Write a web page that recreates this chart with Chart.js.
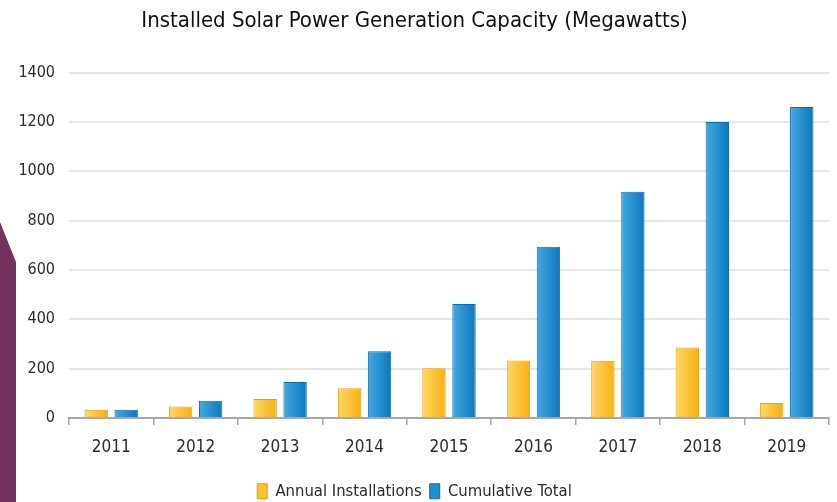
<!DOCTYPE html>
<html>
<head>
<meta charset="utf-8">
<script src="https://cdn.jsdelivr.net/npm/chart.js@4"></script>
<style>
  html, body { margin: 0; padding: 0; background: #ffffff; }
  #wrap { position: relative; width: 837px; height: 502px; overflow: hidden; }
  #deco { position: absolute; left: 0; top: 0; width: 16px; height: 502px; background: #76325f;
          clip-path: polygon(0 222px, 16px 262px, 16px 502px, 0 502px); }
  canvas { position: absolute; left: 0; top: 0; }
</style>
</head>
<body>
<div id="wrap">
  <div id="deco"></div>
  <canvas id="c" width="837" height="502"></canvas>
</div>
<script>
const categories = ['2011', '2012', '2013', '2014', '2015', '2016', '2017', '2018', '2019'];
const annualInstallations = [33, 47, 77, 121, 202, 233, 232, 286, 61];
const cumulativeTotal = [33, 70, 146, 271, 462, 694, 917, 1200, 1261];
const seriesNames = ['Annual Installations', 'Cumulative Total'];
const yMin = 0, yMax = 1400, yStep = 200;

const FONT = "'Liberation Sans Narrow', 'DejaVu Sans Condensed', 'Liberation Sans', Arial, sans-serif";

const gradStops = [
  ['#ffd766', '#f5b012'],
  ['#45a9e0', '#0b78bd']
];

const gradientBars = {
  id: 'gradientBars',
  beforeDatasetsDraw(chart) {
    const ctx = chart.ctx;
    chart.data.datasets.forEach((ds, di) => {
      const meta = chart.getDatasetMeta(di);
      meta.data.forEach(el => {
        const x0 = el.x - el.width / 2, x1 = el.x + el.width / 2;
        const g = ctx.createLinearGradient(x0, 0, x1, 0);
        g.addColorStop(0, gradStops[di][0]);
        g.addColorStop(1, gradStops[di][1]);
        el.options = Object.assign({}, el.options, { backgroundColor: g });
      });
    });
  }
};

new Chart(document.getElementById('c'), {
  type: 'bar',
  data: {
    labels: categories,
    datasets: [
      { label: seriesNames[0], data: annualInstallations, backgroundColor: '#fbc22c', borderColor: '#e4a10c', borderWidth: 1 },
      { label: seriesNames[1], data: cumulativeTotal, backgroundColor: '#1f8fd0', borderColor: '#0a6eae', borderWidth: 1 }
    ]
  },
  options: {
    responsive: false,
    animation: false,
    layout: { padding: { left: 0, right: 8, top: 0, bottom: -7.5 } },
    datasets: { bar: { categoryPercentage: 0.71, barPercentage: 0.78 } },
    plugins: {
      title: {
        display: true,
        text: 'Installed Solar Power Generation Capacity (Megawatts)',
        color: '#111111',
        font: { family: FONT, size: 22, weight: 'normal', lineHeight: 1.2 },
        padding: { top: 8, bottom: 38.2 }
      },
      legend: {
        position: 'bottom',
        labels: {
          color: '#2b2b2b',
          font: { family: FONT, size: 16.5 },
          boxWidth: 10,
          boxHeight: 15,
          padding: 8
        }
      },
      tooltip: { enabled: false }
    },
    scales: {
      x: {
        offset: true,
        grid: { display: true, drawOnChartArea: false, offset: true, tickLength: 7, color: '#a8a8a8', lineWidth: 1.5 },
        border: { display: true, color: '#a8a8a8', width: 2 },
        ticks: { color: '#2b2b2b', font: { family: FONT, size: 17 }, padding: 12 },
        afterFit(scale) { scale.height = 57; }
      },
      y: {
        min: yMin, max: yMax,
        ticks: { stepSize: yStep, color: '#2b2b2b', font: { family: FONT, size: 16 }, padding: 14,
                 callback: (v) => String(v) },
        grid: { color: '#e6e6e6', lineWidth: 2, drawTicks: false },
        border: { display: false },
        afterFit(scale) { scale.width = 69; }
      }
    }
  },
  plugins: [gradientBars]
});
</script>
</body>
</html>
